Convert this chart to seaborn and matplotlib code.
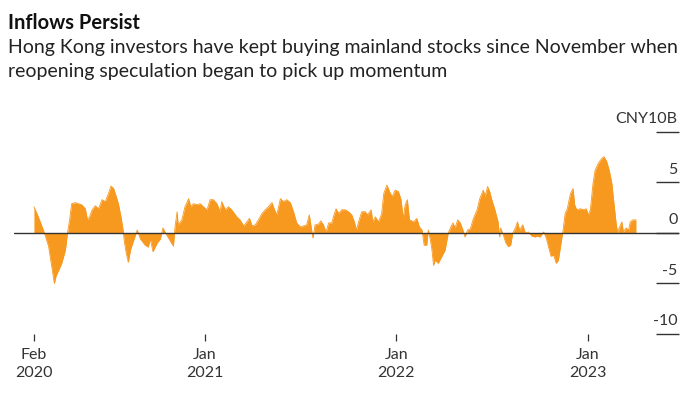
import pandas as pd
import numpy as np
import matplotlib.pyplot as plt
import matplotlib.dates as mdates
import seaborn as sns

# Southbound net buying, rolling (CNY 10B units)
dates = [
    '2020-02-10', '2020-02-16', '2020-02-22', '2020-02-28', '2020-03-04', '2020-03-09',
    '2020-03-13', '2020-03-17', '2020-03-20', '2020-03-23', '2020-03-28', '2020-04-03',
    '2020-04-10', '2020-04-14', '2020-04-18', '2020-04-22', '2020-04-29', '2020-05-05',
    '2020-05-11', '2020-05-18', '2020-05-22', '2020-05-26', '2020-05-31', '2020-06-06',
    '2020-06-12', '2020-06-19', '2020-06-25', '2020-07-01', '2020-07-06', '2020-07-11',
    '2020-07-16', '2020-07-20', '2020-07-25', '2020-07-29', '2020-07-31', '2020-08-04',
    '2020-08-08', '2020-08-12', '2020-08-17', '2020-08-25', '2020-08-31', '2020-09-09',
    '2020-09-15', '2020-09-19', '2020-09-24', '2020-10-02', '2020-10-08', '2020-10-13',
    '2020-10-19', '2020-10-27', '2020-11-02', '2020-11-05', '2020-11-09', '2020-11-11',
    '2020-11-18', '2020-11-24', '2020-12-01', '2020-12-05', '2020-12-10', '2020-12-17',
    '2020-12-23', '2020-12-29',
    '2021-01-05', '2021-01-11', '2021-01-17', '2021-01-24', '2021-01-30', '2021-02-02',
    '2021-02-09', '2021-02-15', '2021-02-21', '2021-03-03', '2021-03-09', '2021-03-16',
    '2021-03-22', '2021-03-27', '2021-04-01', '2021-04-07', '2021-04-13', '2021-04-20',
    '2021-04-26', '2021-05-02', '2021-05-09', '2021-05-13', '2021-05-18', '2021-05-25',
    '2021-05-31', '2021-06-06', '2021-06-13', '2021-06-19', '2021-06-25', '2021-07-02',
    '2021-07-08', '2021-07-14', '2021-07-19', '2021-07-23', '2021-07-26', '2021-07-30',
    '2021-08-06', '2021-08-10', '2021-08-15', '2021-08-20', '2021-08-25', '2021-08-31',
    '2021-09-03', '2021-09-08', '2021-09-13', '2021-09-19', '2021-09-26', '2021-10-02',
    '2021-10-08', '2021-10-13', '2021-10-17', '2021-10-21', '2021-10-27', '2021-11-03',
    '2021-11-07', '2021-11-14', '2021-11-17', '2021-11-22', '2021-11-28', '2021-12-04',
    '2021-12-08', '2021-12-14', '2021-12-19', '2021-12-24', '2021-12-30',
    '2022-01-05', '2022-01-10', '2022-01-14', '2022-01-18', '2022-01-22', '2022-01-26',
    '2022-02-03', '2022-02-09', '2022-02-14', '2022-02-19', '2022-02-23', '2022-02-28',
    '2022-03-03', '2022-03-07', '2022-03-10', '2022-03-13', '2022-03-16', '2022-03-22',
    '2022-03-29', '2022-04-04', '2022-04-10', '2022-04-15', '2022-04-19', '2022-04-23',
    '2022-04-28', '2022-05-03', '2022-05-08', '2022-05-12', '2022-05-17', '2022-05-22',
    '2022-05-28', '2022-06-04', '2022-06-09', '2022-06-13', '2022-06-16', '2022-06-19',
    '2022-06-24', '2022-06-28', '2022-07-02', '2022-07-08', '2022-07-14', '2022-07-17',
    '2022-07-19', '2022-07-24', '2022-07-29', '2022-08-03', '2022-08-07', '2022-08-11',
    '2022-08-16', '2022-08-20', '2022-08-24', '2022-08-30', '2022-09-04', '2022-09-10',
    '2022-09-16', '2022-09-23', '2022-09-26', '2022-10-02', '2022-10-09', '2022-10-14',
    '2022-10-18', '2022-10-23', '2022-10-28', '2022-11-02', '2022-11-06', '2022-11-11',
    '2022-11-15', '2022-11-19', '2022-11-23', '2022-11-29', '2022-12-04', '2022-12-07',
    '2022-12-11', '2022-12-18', '2022-12-24', '2022-12-29',
    '2023-01-02', '2023-01-06', '2023-01-11', '2023-01-15', '2023-01-21', '2023-01-28',
    '2023-02-01', '2023-02-06', '2023-02-11', '2023-02-16', '2023-02-20', '2023-02-24',
    '2023-02-27', '2023-03-02', '2023-03-07', '2023-03-10', '2023-03-15', '2023-03-20',
    '2023-03-23', '2023-03-28', '2023-04-03',
]
net_flow = [
    2.6, 1.9, 1.1, 0.3, -0.5, -1.35,
    -2.7, -4.0, -5.0, -4.3, -3.7, -3.0,
    -1.7, 0.0, 1.3, 2.9, 3.0, 2.9,
    2.8, 2.4, 1.3, 1.6, 2.3, 2.7,
    2.4, 3.3, 3.1, 3.9, 4.65, 4.4,
    3.6, 2.9, 1.6, 0.3, -0.7, -2.0,
    -2.9, -1.7, -0.9, 0.3, -0.6, -1.2,
    -1.4, -0.6, -1.85, -1.0, -0.6, 0.5,
    -0.1, -0.8, -1.3, 0.6, 2.1, 0.8,
    1.3, 2.6, 3.4, 2.6, 2.9, 2.8,
    2.9, 2.6,
    2.3, 3.3, 3.3, 2.9, 2.1, 3.1,
    2.3, 2.6, 2.3, 1.6, 1.3, 0.7,
    1.1, 1.45, 0.7, 0.8, 1.3, 1.95,
    2.3, 2.6, 3.0, 2.4, 1.8, 3.4,
    3.1, 3.3, 3.0, 2.1, 1.0, 0.6,
    0.7, 0.8, 1.8, 0.5, -0.5, 0.8,
    0.9, 1.2, 0.8, 0.1, 1.0, 1.0,
    1.6, 2.4, 1.95, 2.3, 2.3, 2.1,
    1.8, 1.1, 0.3, 1.1, 2.1, 2.1,
    1.8, 2.3, 1.1, 1.6, 1.1, 1.9,
    3.9, 4.75, 4.1, 3.6, 4.25,
    4.1, 3.3, 1.45, 2.8, 3.3, 1.3,
    1.1, 1.45, 0.6, 0.3, -1.2, -1.2,
    0.3, -0.7, -1.7, -3.2, -2.7, -3.0,
    -2.3, -1.7, 0.0, 0.6, 1.0, 0.5,
    1.3, 1.0, 0.3, -0.4, 0.3, 0.4,
    1.45, 2.3, 3.4, 3.9, 4.25, 3.6,
    4.6, 4.1, 3.3, 2.3, 1.1, -0.4,
    0.5, -0.2, -1.0, -1.35, -1.2, 0.0,
    0.5, 1.1, 0.3, 0.8, 0.0, 0.1,
    -0.3, -0.4, -0.3, -0.4, 0.1, -0.5,
    -1.35, -2.3, -2.2, -3.0, -2.7, -1.0,
    0.3, 1.95, 2.4, 3.9, 4.4, 2.8,
    2.3, 2.4, 2.3, 2.4,
    1.8, 2.3, 4.9, 6.2, 6.9, 7.4,
    7.55, 7.1, 6.2, 4.9, 2.9, 1.0,
    0.0, 0.5, 1.1, 0.1, 0.5, 0.3,
    1.1, 1.3, 1.3,
]

y_ticks = [-10, -5, 0, 5, 10]
y_labels = ['-10', '-5', '0', '5', 'CNY10B']
x_tick_dates = ['2020-02-10', '2021-01-01', '2022-01-01', '2023-01-01']
x_tick_labels = ['Feb\n2020', 'Jan\n2021', 'Jan\n2022', 'Jan\n2023']

df = pd.DataFrame({'date': pd.to_datetime(dates), 'flow': net_flow})

sns.set_theme(style='white')
plt.rcParams['font.family'] = ['Lato', 'DejaVu Sans']

orange = '#f7981f'
ink = '#333333'

fig = plt.figure(figsize=(7, 3.94), dpi=100)
ax = fig.add_axes([0.02, 0.1523, 0.95, 0.5127])

ax.fill_between(df['date'], df['flow'], 0, color=orange, linewidth=0)
sns.lineplot(data=df, x='date', y='flow', ax=ax, color=orange, linewidth=0.6)
ax.axhline(0, color=ink, linewidth=1.0, zorder=5)

ax.set_ylim(-10, 10)
ax.set_xlim(pd.Timestamp('2020-01-03'), pd.Timestamp('2023-06-24'))
ax.set_xlabel('')
ax.set_ylabel('')
for s in ax.spines.values():
    s.set_visible(False)

# right-side short tick lines with labels sitting on top
ax.yaxis.tick_right()
ax.set_yticks(y_ticks)
ax.tick_params(axis='y', direction='in', length=16.5, width=1.0, color=ink,
               labelright=False, labelleft=False)
for v, lab in zip(y_ticks, y_labels):
    ax.annotate(lab, xy=(1, v), xycoords=('axes fraction', 'data'),
                xytext=(-1, 4), textcoords='offset points',
                ha='right', va='bottom', fontsize=11.5, color=ink)

ax.set_xticks(pd.to_datetime(x_tick_dates))
ax.set_xticklabels(x_tick_labels, fontsize=11.5, color=ink, linespacing=1.4)
ax.tick_params(axis='x', direction='out', length=5, width=0.9, color=ink, pad=5,
               bottom=True)

fig.text(0.011, 0.968, 'Inflows Persist', fontsize=14.5, fontweight='bold',
         color='#111111', va='top', ha='left')
fig.text(0.011, 0.9,
         'Hong Kong investors have kept buying mainland stocks since November when\n'
         'reopening speculation began to pick up momentum',
         fontsize=14, color='#222222', va='top', ha='left', linespacing=1.5)

fig.savefig('out.png', dpi=100)
